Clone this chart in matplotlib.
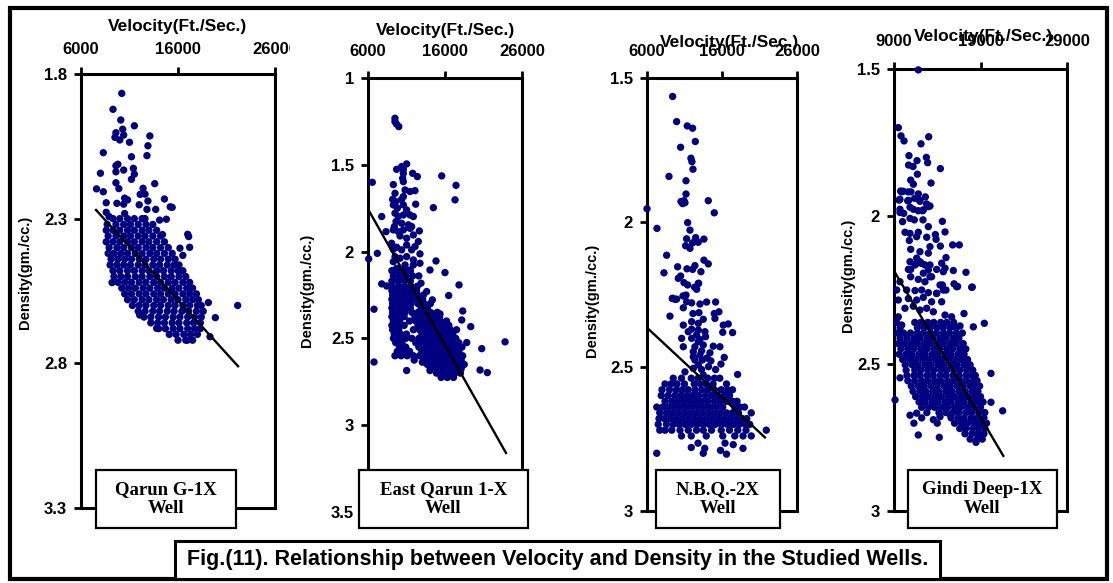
import matplotlib
matplotlib.use('Agg')
import matplotlib.pyplot as plt
import matplotlib.patches as mpatches
from matplotlib.transforms import Bbox, TransformedBbox
import numpy as np

plt.rcParams['font.family'] = ['Liberation Sans', 'DejaVu Sans']
plt.rcParams['font.weight'] = 'bold'

# ---------------------------------------------------------------
# data: (velocity ft/s, density gm/cc) read per well
# ---------------------------------------------------------------
well_names = ['Qarun G-1X\nWell', 'East Qarun 1-X\nWell', 'N.B.Q.-2X\nWell', 'Gindi Deep-1X\nWell']

vel_ticks = [[6000, 16000, 26000], [6000, 16000, 26000], [6000, 16000, 26000], [9000, 19000, 29000]]
den_ticks = [[1.8, 2.3, 2.8, 3.3], [1, 1.5, 2, 2.5, 3, 3.5], [1.5, 2, 2.5, 3], [1.5, 2, 2.5, 3]]
den_labels = [['1.8', '2.3', '2.8', '3.3'], ['1', '1.5', '2', '2.5', '3', '3.5'],
              ['1.5', '2', '2.5', '3'], ['1.5', '2', '2.5', '3']]

# regression line end points
qarun_fit = [(7550, 2.27), (22190, 2.81)]
east_fit = [(6000, 1.755), (23920, 3.16)]
nbq_fit = [(6000, 2.365), (21720, 2.745)]
gindi_fit = [(9000, 2.185), (21640, 2.813)]

qarun_pts = [
    (10200, 1.867), (9300, 1.922), (10100, 1.959), (11500, 1.979), (10300, 1.991), (9600, 2.003),
    (10400, 2.011), (9500, 2.019), (10000, 2.028), (13100, 2.014), (11000, 2.036), (12900, 2.048),
    (12800, 2.082), (8300, 2.072), (11200, 2.086), (9600, 2.117), (9800, 2.112), (11400, 2.126),
    (10400, 2.132), (8000, 2.143), (11500, 2.146), (9600, 2.138), (11200, 2.164), (9600, 2.176),
    (13600, 2.179), (7600, 2.197), (8300, 2.207), (12400, 2.195), (9900, 2.196), (12100, 2.216),
    (12600, 2.215), (10500, 2.229), (10800, 2.235), (12900, 2.239), (14600, 2.232), (8600, 2.245),
    (9700, 2.247), (12000, 2.252), (10400, 2.250), (15400, 2.261), (15200, 2.259), (13700, 2.268),
    (12800, 2.268), (10500, 2.282), (8600, 2.278), (8900, 2.293), (12600, 2.300), (14100, 2.305),
    (14800, 2.302), (17000, 2.354), (17100, 2.362), (14400, 2.355), (17200, 2.399), (16200, 2.402),
    (16500, 2.427), (9200, 2.521), (19130, 2.590), (22150, 2.600), (19850, 2.642), (12050, 2.633),
    (16960, 2.720), (13800, 2.679), (19300, 2.708),
    (9300, 2.30), (10000, 2.30), (10800, 2.30), (11500, 2.30), (12300, 2.30),
    (8700, 2.32), (9600, 2.32), (10400, 2.32), (11100, 2.32), (11900, 2.32), (12700, 2.32), (13400, 2.32),
    (8600, 2.34), (9300, 2.34), (10000, 2.34), (10800, 2.34), (11500, 2.34), (12300, 2.34), (13000, 2.34),
    (13800, 2.34),
    (8800, 2.36), (9600, 2.36), (10400, 2.36), (11100, 2.36), (11900, 2.36), (12600, 2.36), (13400, 2.36),
    (14200, 2.36),
    (8600, 2.38), (9300, 2.38), (10000, 2.38), (10800, 2.38), (11500, 2.38), (12300, 2.38), (13000, 2.38),
    (13800, 2.38), (14600, 2.38),
    (8900, 2.40), (9700, 2.40), (10400, 2.40), (11200, 2.40), (11900, 2.40), (12700, 2.40), (13400, 2.40),
    (14200, 2.40), (15000, 2.40),
    (8800, 2.42), (9400, 2.42), (10100, 2.42), (10800, 2.42), (11600, 2.42), (12300, 2.42), (13100, 2.42),
    (13800, 2.42), (14600, 2.42), (15400, 2.42),
    (9100, 2.44), (9800, 2.44), (10500, 2.44), (11200, 2.44), (12000, 2.44), (12700, 2.44), (13500, 2.44),
    (14200, 2.44), (15000, 2.44), (15700, 2.44),
    (9000, 2.46), (9700, 2.46), (10400, 2.46), (11100, 2.46), (11900, 2.46), (12600, 2.46), (13400, 2.46),
    (14100, 2.46), (14900, 2.46), (15600, 2.46), (16100, 2.46),
    (9300, 2.48), (10000, 2.48), (10800, 2.48), (11500, 2.48), (12300, 2.48), (13000, 2.48), (13800, 2.48),
    (14500, 2.48), (15300, 2.48), (16000, 2.48), (16500, 2.48),
    (9400, 2.50), (10100, 2.50), (10800, 2.50), (11600, 2.50), (12300, 2.50), (13100, 2.50), (13800, 2.50),
    (14600, 2.50), (15300, 2.50), (16100, 2.50), (16800, 2.50),
    (9800, 2.52), (10500, 2.52), (11200, 2.52), (12000, 2.52), (12700, 2.52), (13500, 2.52), (14200, 2.52),
    (15000, 2.52), (15700, 2.52), (16500, 2.52), (17200, 2.52),
    (10200, 2.54), (10900, 2.54), (11600, 2.54), (12400, 2.54), (13100, 2.54), (13900, 2.54), (14600, 2.54),
    (15400, 2.54), (16100, 2.54), (16900, 2.54), (17500, 2.54),
    (10500, 2.56), (11200, 2.56), (12000, 2.56), (12700, 2.56), (13500, 2.56), (14200, 2.56), (15000, 2.56),
    (15700, 2.56), (16500, 2.56), (17200, 2.56), (17900, 2.56),
    (10800, 2.58), (11500, 2.58), (12300, 2.58), (13000, 2.58), (13800, 2.58), (14500, 2.58), (15300, 2.58),
    (16000, 2.58), (16800, 2.58), (17500, 2.58), (18100, 2.58),
    (11300, 2.60), (12000, 2.60), (12700, 2.60), (13500, 2.60), (14200, 2.60), (15000, 2.60), (15700, 2.60),
    (16500, 2.60), (17200, 2.60), (18000, 2.60), (18400, 2.60),
    (11900, 2.62), (12600, 2.62), (13400, 2.62), (14100, 2.62), (14900, 2.62), (15600, 2.62), (16400, 2.62),
    (17100, 2.62), (17900, 2.62), (18600, 2.62),
    (12500, 2.64), (13200, 2.64), (14000, 2.64), (14700, 2.64), (15500, 2.64), (16200, 2.64), (17000, 2.64),
    (17700, 2.64), (18400, 2.64),
    (13200, 2.66), (13900, 2.66), (14600, 2.66), (15400, 2.66), (16100, 2.66), (16900, 2.66), (17600, 2.66),
    (18300, 2.66),
    (14000, 2.68), (14700, 2.68), (15500, 2.68), (16200, 2.68), (17000, 2.68), (17700, 2.68), (18300, 2.68),
    (15100, 2.70), (15800, 2.70), (16600, 2.70), (17300, 2.70), (18000, 2.70),
    (16000, 2.72), (16800, 2.72), (17500, 2.72),
]

east_pts = [
    (9500, 1.232), (9500, 1.251), (9700, 1.265), (10000, 1.280),
    (11020, 1.495), (10590, 1.526), (11800, 1.549), (12410, 1.568), (9720, 1.526), (6560, 1.601),
    (9290, 1.614), (15570, 1.564), (17430, 1.618), (17300, 1.702), (14490, 1.747), (12100, 1.649),
    (12190, 1.727), (7780, 1.798), (8340, 1.885), (7210, 2.010), (6090, 2.042), (7780, 2.186),
    (8420, 2.198), (14830, 2.054), (14050, 2.106), (16000, 2.121), (17820, 2.192), (16480, 2.253),
    (14360, 2.278), (13620, 2.230), (12880, 2.182), (6780, 2.332), (6780, 2.636), (11020, 2.685),
    (14050, 2.685), (18170, 2.394), (18300, 2.342), (19340, 2.432), (23800, 2.520), (20770, 2.559),
    (20550, 2.682), (21500, 2.697), (15350, 2.359), (14570, 2.359), (13060, 2.637), (18820, 2.524),
    (10370, 1.510), (10590, 1.549), (10500, 1.578), (10590, 1.597), (10810, 1.645), (9510, 1.664),
    (11460, 1.654), (10590, 1.683), (9200, 1.699), (9640, 1.712), (10370, 1.699), (9290, 1.731),
    (9810, 1.750), (11020, 1.760), (10590, 1.731), (11460, 1.789), (9510, 1.779), (9940, 1.798),
    (9640, 1.827), (10370, 1.837), (10590, 1.789), (11890, 1.798), (11240, 1.846), (9420, 1.856),
    (11670, 1.856), (9290, 1.875), (9940, 1.885), (10590, 1.875), (11460, 1.866), (12670, 1.881),
    (10160, 1.910), (11020, 1.923), (11890, 1.904), (12540, 1.942), (9070, 1.952), (9720, 1.975),
    (10370, 1.990), (11020, 1.962), (11670, 1.990), (9290, 1.987), (12110, 1.971), (12750, 2.013),
    (9510, 2.029), (10160, 2.038), (11020, 2.029), (11890, 2.048), (9290, 2.058), (10810, 2.077),
    (11890, 2.077), (12750, 2.067), (11460, 2.106), (9720, 2.096),
    (9100, 2.11), (9900, 2.11), (10700, 2.11), (11500, 2.11),
    (9300, 2.14), (10100, 2.14), (10900, 2.14), (11800, 2.14), (12600, 2.14),
    (9100, 2.17), (9900, 2.17), (10700, 2.17), (11500, 2.17),
    (9200, 2.20), (10000, 2.20), (10800, 2.20), (11600, 2.20), (12400, 2.20),
    (9100, 2.225), (9900, 2.225), (10700, 2.225), (11500, 2.225), (12300, 2.225),
    (9200, 2.25), (10000, 2.25), (10800, 2.25), (11600, 2.25), (12400, 2.25), (13200, 2.25),
    (9100, 2.275), (9900, 2.275), (10700, 2.275), (11500, 2.275), (12300, 2.275), (13100, 2.275),
    (9200, 2.30), (10000, 2.30), (10800, 2.30), (11600, 2.30), (12500, 2.30), (13300, 2.30), (14100, 2.30),
    (9100, 2.325), (9900, 2.325), (10700, 2.325), (11500, 2.325), (12900, 2.325), (13700, 2.325),
    (9200, 2.35), (10000, 2.35), (10800, 2.35), (11700, 2.35), (12500, 2.35), (13300, 2.35), (14100, 2.35),
    (15000, 2.35),
    (9100, 2.375), (9900, 2.375), (10700, 2.375), (12100, 2.375), (12900, 2.375), (13700, 2.375),
    (14500, 2.375), (15300, 2.375),
    (9300, 2.40), (10100, 2.40), (11400, 2.40), (12200, 2.40), (13000, 2.40), (13800, 2.40), (14600, 2.40),
    (15400, 2.40), (16200, 2.40),
    (9100, 2.425), (9900, 2.425), (10700, 2.425), (12500, 2.425), (13300, 2.425), (14100, 2.425),
    (14900, 2.425), (15700, 2.425), (16500, 2.425),
    (9200, 2.45), (10000, 2.45), (11900, 2.45), (12700, 2.45), (13500, 2.45), (14300, 2.45), (15100, 2.45),
    (15900, 2.45), (16700, 2.45), (17500, 2.45),
    (9400, 2.475), (10200, 2.475), (11000, 2.475), (13000, 2.475), (13800, 2.475), (14600, 2.475),
    (15400, 2.475), (16200, 2.475), (17000, 2.475),
    (9300, 2.50), (10100, 2.50), (10900, 2.50), (11700, 2.50), (12600, 2.50), (13400, 2.50), (14200, 2.50),
    (15000, 2.50), (15800, 2.50), (16600, 2.50), (17400, 2.50),
    (9600, 2.525), (10400, 2.525), (12200, 2.525), (13000, 2.525), (13800, 2.525), (14600, 2.525),
    (15400, 2.525), (16200, 2.525), (17000, 2.525), (17800, 2.525),
    (10100, 2.55), (10900, 2.55), (12600, 2.55), (13400, 2.55), (14200, 2.55), (15000, 2.55), (15800, 2.55),
    (16600, 2.55), (17400, 2.55), (18200, 2.55),
    (9800, 2.575), (10600, 2.575), (11400, 2.575), (13000, 2.575), (13800, 2.575), (14600, 2.575),
    (15400, 2.575), (16200, 2.575), (17000, 2.575), (17800, 2.575),
    (9500, 2.60), (10300, 2.60), (11100, 2.60), (11900, 2.60), (12700, 2.60), (13500, 2.60), (14300, 2.60),
    (15100, 2.60), (15900, 2.60), (16700, 2.60), (17500, 2.60), (18300, 2.60),
    (12000, 2.625), (13300, 2.625), (14100, 2.625), (14900, 2.625), (15700, 2.625), (16500, 2.625),
    (17300, 2.625), (18100, 2.625),
    (13700, 2.65), (14500, 2.65), (15300, 2.65), (16100, 2.65), (16900, 2.65), (17700, 2.65), (18500, 2.65),
    (14100, 2.675), (14900, 2.675), (15700, 2.675), (16500, 2.675), (17300, 2.675), (18100, 2.675),
    (14900, 2.70), (15700, 2.70), (16500, 2.70), (17300, 2.70), (18000, 2.70),
    (15500, 2.725), (16300, 2.725), (17100, 2.725),
]

nbq_pts = [
    (9420, 1.564), (9950, 1.651), (11370, 1.666), (12080, 1.674), (10480, 1.740), (12440, 1.720),
    (11860, 1.778), (11990, 1.790), (12130, 1.816), (8930, 1.841), (11200, 1.856), (11200, 1.902),
    (10530, 1.928), (10930, 1.925), (10750, 1.935), (11060, 1.932), (14170, 1.925), (14970, 1.967),
    (6000, 1.953), (7330, 2.021), (11420, 2.001), (11730, 2.027), (11280, 2.057), (12480, 2.053),
    (13590, 2.058), (12080, 2.071), (12840, 2.069), (11150, 2.081), (11730, 2.090), (8620, 2.114),
    (13590, 2.131), (14170, 2.144), (10080, 2.154), (11330, 2.161), (12080, 2.163), (12390, 2.150),
    (13190, 2.171), (8260, 2.175), (10480, 2.186), (10170, 2.194), (10930, 2.209), (11420, 2.217),
    (12880, 2.211), (12620, 2.232), (12350, 2.225), (11200, 2.252), (9420, 2.263), (9950, 2.266),
    (12840, 2.212), (9370, 2.264), (9770, 2.267), (10800, 2.255), (11280, 2.275), (11950, 2.279),
    (13060, 2.283), (13950, 2.276), (15150, 2.276), (9060, 2.325), (10840, 2.296), (12130, 2.316),
    (12930, 2.313), (14970, 2.316), (15590, 2.310), (15060, 2.333), (10840, 2.356), (11950, 2.344),
    (12840, 2.350), (13500, 2.336), (16170, 2.356), (16830, 2.352), (16100, 2.381), (17410, 2.382),
    (11500, 2.379), (12840, 2.373), (13730, 2.379), (10620, 2.402), (11950, 2.402), (13060, 2.406),
    (13810, 2.396), (10840, 2.431), (12390, 2.431), (13500, 2.425), (14840, 2.429), (15720, 2.431),
    (12170, 2.448), (13280, 2.445), (14390, 2.452), (16300, 2.468), (12390, 2.477), (13370, 2.477),
    (14520, 2.480), (15860, 2.491), (11060, 2.518), (12170, 2.506), (13280, 2.510), (15150, 2.510),
    (18080, 2.527), (11950, 2.370), (12620, 2.390), (12840, 2.413), (12170, 2.466), (13060, 2.460),
    (12840, 2.494), (13500, 2.529), (14200, 2.500), (14000, 2.470),
    (9500, 2.54), (10600, 2.54), (11900, 2.54), (12800, 2.54), (14100, 2.54), (15000, 2.54), (15700, 2.54),
    (8400, 2.56), (9200, 2.56), (10000, 2.56), (11000, 2.56), (12300, 2.56), (13100, 2.56), (13900, 2.56),
    (14800, 2.56), (16600, 2.56),
    (8000, 2.58), (9000, 2.58), (9900, 2.58), (10700, 2.58), (11500, 2.58), (12400, 2.58), (13300, 2.58),
    (14100, 2.58), (15000, 2.58), (15900, 2.58), (16700, 2.58), (17400, 2.58),
    (7900, 2.60), (8800, 2.60), (9700, 2.60), (10500, 2.60), (11300, 2.60), (12100, 2.60), (12900, 2.60),
    (13800, 2.60), (14600, 2.60), (15400, 2.60), (16300, 2.60), (17000, 2.60),
    (8400, 2.62), (9300, 2.62), (10100, 2.62), (10900, 2.62), (11700, 2.62), (12500, 2.62), (13300, 2.62),
    (14100, 2.62), (15000, 2.62), (15800, 2.62), (16600, 2.62), (17400, 2.62), (18000, 2.62),
    (7300, 2.64), (8100, 2.64), (8900, 2.64), (9700, 2.64), (10500, 2.64), (11300, 2.64), (12100, 2.64),
    (12900, 2.64), (13700, 2.64), (14500, 2.64), (15300, 2.64), (16100, 2.64), (17700, 2.64), (18400, 2.64),
    (19000, 2.64),
    (7700, 2.66), (8600, 2.66), (9400, 2.66), (10200, 2.66), (11000, 2.66), (11800, 2.66), (12600, 2.66),
    (13400, 2.66), (14200, 2.66), (15000, 2.66), (15800, 2.66), (16600, 2.66), (17400, 2.66), (18200, 2.66),
    (19900, 2.66),
    (7600, 2.68), (8300, 2.68), (9100, 2.68), (9900, 2.68), (10700, 2.68), (11500, 2.68), (12300, 2.68),
    (13100, 2.68), (13900, 2.68), (14700, 2.68), (15500, 2.68), (16300, 2.68), (17100, 2.68), (17900, 2.68),
    (18700, 2.68), (19300, 2.68),
    (7500, 2.70), (8600, 2.70), (9500, 2.70), (10300, 2.70), (11100, 2.70), (11900, 2.70), (12700, 2.70),
    (13500, 2.70), (14300, 2.70), (15100, 2.70), (15900, 2.70), (16700, 2.70), (17500, 2.70), (18300, 2.70),
    (19100, 2.70), (19700, 2.70),
    (7700, 2.72), (8400, 2.72), (9300, 2.72), (10400, 2.72), (11500, 2.72), (12600, 2.72), (13500, 2.72),
    (14600, 2.72), (15900, 2.72), (17000, 2.72), (18100, 2.72), (19200, 2.72), (21900, 2.72),
    (10600, 2.74), (11900, 2.74), (13900, 2.74), (16100, 2.74), (17700, 2.74), (18800, 2.74), (19900, 2.74),
    (12800, 2.765), (16400, 2.765), (17500, 2.77),
    (11900, 2.78), (13700, 2.783), (18800, 2.783),
    (7300, 2.80), (13500, 2.80), (15800, 2.79), (16600, 2.803),
]

gindi_pts = [
    (11810, 1.503), (9500, 1.699), (9810, 1.727), (10160, 1.744), (13010, 1.730), (12120, 1.754),
    (10730, 1.794), (12740, 1.800), (11660, 1.811), (12890, 1.818), (10690, 1.826), (11200, 1.831),
    (14360, 1.838), (11700, 1.857), (10930, 1.877), (11240, 1.891), (13280, 1.887), (9770, 1.914),
    (10080, 1.915), (10960, 1.917), (11810, 1.924), (12620, 1.934), (9690, 1.942), (10690, 1.946),
    (12770, 1.958), (13160, 1.965), (12000, 1.949), (9690, 1.976), (9690, 1.987), (10850, 1.969),
    (11240, 1.976), (11810, 1.981), (12390, 1.978), (12970, 1.967), (9990, 2.018), (10850, 2.007),
    (11350, 2.012), (12350, 2.012), (14590, 2.017), (12970, 2.035), (10270, 2.054), (10850, 2.058),
    (11810, 2.054), (11620, 2.069), (13780, 2.062), (14900, 2.053), (13860, 2.078), (12780, 2.071),
    (10770, 2.082), (10930, 2.112), (13160, 2.103), (14360, 2.101), (15780, 2.097), (16550, 2.097),
    (12000, 2.120), (12970, 2.125), (11620, 2.142), (15010, 2.140), (10850, 2.154), (11620, 2.159),
    (12000, 2.154), (12580, 2.165), (13160, 2.165), (14510, 2.159), (14900, 2.176), (15860, 2.184),
    (17320, 2.190), (10930, 2.180), (12390, 2.193), (13160, 2.205), (15940, 2.229), (16360, 2.238),
    (18050, 2.240), (14590, 2.233), (15010, 2.250), (13930, 2.261),
    (9850, 1.917), (10650, 1.917), (11390, 1.939), (10580, 1.947), (11970, 1.945), (10120, 1.990),
    (12310, 1.981), (9580, 1.945),
    (10660, 2.180), (11430, 2.165), (12200, 2.160), (12970, 2.182), (13930, 2.180), (14700, 2.188),
    (10930, 2.205), (11810, 2.214), (12580, 2.222), (13350, 2.205), (14320, 2.233), (16240, 2.239),
    (17980, 2.241), (9690, 2.222), (9310, 2.250), (10460, 2.250), (11430, 2.252), (12200, 2.250),
    (12970, 2.259), (13930, 2.262), (14700, 2.250), (9500, 2.284), (10660, 2.279), (11620, 2.284),
    (12390, 2.275), (13350, 2.290), (14510, 2.290), (10270, 2.312), (11230, 2.305), (12000, 2.318),
    (12780, 2.312), (13550, 2.324), (14900, 2.335), (15660, 2.341), (16630, 2.372), (17090, 2.330),
    (18170, 2.375), (19440, 2.363), (9500, 2.341), (9890, 2.369),
    (9300, 2.36), (11400, 2.36), (12100, 2.36), (12900, 2.36), (13600, 2.36), (14400, 2.36), (15100, 2.36),
    (15900, 2.36),
    (9700, 2.378), (11700, 2.378), (12500, 2.378), (13200, 2.378), (14000, 2.378), (14700, 2.378),
    (15500, 2.378), (16200, 2.378),
    (9400, 2.396), (10100, 2.396), (10900, 2.396), (11700, 2.396), (12400, 2.396), (13200, 2.396),
    (13900, 2.396), (14700, 2.396), (15400, 2.396), (16200, 2.396), (16900, 2.396),
    (9700, 2.414), (10500, 2.414), (11300, 2.414), (12000, 2.414), (12800, 2.414), (13500, 2.414),
    (14300, 2.414), (15000, 2.414), (15800, 2.414), (16500, 2.414),
    (9500, 2.432), (10200, 2.432), (11000, 2.432), (11700, 2.432), (12500, 2.432), (13200, 2.432),
    (14000, 2.432), (14700, 2.432), (15500, 2.432), (16200, 2.432), (17000, 2.432),
    (9800, 2.45), (10600, 2.45), (11300, 2.45), (12100, 2.45), (12800, 2.45), (13600, 2.45), (14300, 2.45),
    (15100, 2.45), (15800, 2.45), (16600, 2.45), (17300, 2.45),
    (9600, 2.468), (10400, 2.468), (11100, 2.468), (11900, 2.468), (12600, 2.468), (13400, 2.468),
    (14100, 2.468), (14900, 2.468), (15600, 2.468), (16400, 2.468), (17100, 2.468),
    (10000, 2.486), (10800, 2.486), (11500, 2.486), (12300, 2.486), (13000, 2.486), (13800, 2.486),
    (14500, 2.486), (15300, 2.486), (16000, 2.486), (16800, 2.486), (17500, 2.486),
    (10300, 2.504), (11100, 2.504), (11800, 2.504), (12600, 2.504), (13300, 2.504), (14100, 2.504),
    (14800, 2.504), (15600, 2.504), (16300, 2.504), (17100, 2.504), (17800, 2.504),
    (10400, 2.522), (11400, 2.522), (12100, 2.522), (12900, 2.522), (13600, 2.522), (14400, 2.522),
    (15100, 2.522), (15900, 2.522), (16600, 2.522), (17400, 2.522), (18100, 2.522),
    (10500, 2.54), (11300, 2.54), (12000, 2.54), (12800, 2.54), (13500, 2.54), (14300, 2.54), (15000, 2.54),
    (15800, 2.54), (16500, 2.54), (17300, 2.54), (18000, 2.54), (18400, 2.54),
    (10600, 2.558), (11400, 2.558), (12200, 2.558), (12900, 2.558), (13700, 2.558), (14400, 2.558),
    (15200, 2.558), (15900, 2.558), (16700, 2.558), (17400, 2.558), (18200, 2.558), (18600, 2.558),
    (11000, 2.576), (11800, 2.576), (12500, 2.576), (13300, 2.576), (14000, 2.576), (14800, 2.576),
    (15500, 2.576), (16300, 2.576), (17000, 2.576), (17800, 2.576), (18500, 2.576), (18900, 2.576),
    (11200, 2.594), (12000, 2.594), (12700, 2.594), (13500, 2.594), (14200, 2.594), (15000, 2.594),
    (15700, 2.594), (16500, 2.594), (17200, 2.594), (18000, 2.594), (18700, 2.594),
    (11500, 2.612), (12300, 2.612), (13000, 2.612), (13800, 2.612), (14500, 2.612), (15300, 2.612),
    (16000, 2.612), (16800, 2.612), (17500, 2.612), (18300, 2.612), (19000, 2.612),
    (11900, 2.63), (12600, 2.63), (13400, 2.63), (14100, 2.63), (14900, 2.63), (15600, 2.63), (16400, 2.63),
    (17100, 2.63), (17900, 2.63), (18600, 2.63), (19300, 2.63),
    (12200, 2.648), (13000, 2.648), (13700, 2.648), (14500, 2.648), (15200, 2.648), (16000, 2.648),
    (16700, 2.648), (17500, 2.648), (18200, 2.648), (19000, 2.648),
    (12800, 2.666), (14200, 2.666), (15000, 2.666), (15800, 2.666), (16500, 2.666), (17300, 2.666),
    (18000, 2.666), (18800, 2.666), (19500, 2.666),
    (12200, 2.684), (15600, 2.684), (16400, 2.684), (17100, 2.684), (17900, 2.684), (18600, 2.684),
    (19400, 2.684),
    (11300, 2.702), (14000, 2.702), (16000, 2.702), (16800, 2.702), (17500, 2.702), (18300, 2.702),
    (19000, 2.702), (19700, 2.702),
    (16600, 2.72), (17300, 2.72), (18100, 2.72), (18800, 2.72), (19500, 2.72),
    (17200, 2.738), (18000, 2.738), (18700, 2.738), (19400, 2.738),
    (17800, 2.756), (18600, 2.756), (19200, 2.756),
    (9690, 2.548), (9120, 2.623), (11810, 2.742), (14240, 2.750), (18480, 2.767), (20210, 2.533),
    (20210, 2.631), (21560, 2.660), (10850, 2.675), (11620, 2.668), (13550, 2.690), (14320, 2.680),
    (15470, 2.672),
]

well_points = [qarun_pts, east_pts, nbq_pts, gindi_pts]
well_fits = [qarun_fit, east_fit, nbq_fit, gindi_fit]

# ---------------------------------------------------------------
# layout (pixel boxes on a 1113 x 583 canvas)
# ---------------------------------------------------------------
W, H = 1113, 583


def fig_rect(x0, y0, x1, y1):
    return [x0 / W, 1 - y1 / H, (x1 - x0) / W, (y1 - y0) / H]


axes_px = [(81, 74, 275, 508), (368, 78, 522, 512), (647, 78, 797, 511), (894, 69, 1067, 511)]
name_box_px = [(96, 470, 236, 528), (359, 470, 528, 528), (656, 470, 780, 528), (908, 470, 1057, 528)]
vel_label_px = [(178, 27), (446, 31), (730, 42), (983, 36)]
den_label_px = [(25, 272), (307, 290), (592, 300), (848, 275)]
x_pads = [7, 8.5, 8.5, 9.5]

NAVY = '#000080'

fig = plt.figure(figsize=(W / 100, H / 100), dpi=100)

axes = []
for i in range(4):
    ax = fig.add_axes(fig_rect(*axes_px[i]))
    pts = np.array(well_points[i])
    ax.scatter(pts[:, 0], pts[:, 1], s=28, color=NAVY, edgecolors='none', zorder=3, clip_on=False)
    fit = np.array(well_fits[i])
    ax.plot(fit[:, 0], fit[:, 1], color='black', lw=1.7, zorder=4)

    ax.set_xlim(vel_ticks[i][0], vel_ticks[i][-1])
    ax.set_ylim(den_ticks[i][-1], den_ticks[i][0])
    ax.xaxis.tick_top()
    ax.set_xticks(vel_ticks[i])
    ax.set_xticklabels([str(v) for v in vel_ticks[i]])
    ax.set_yticks(den_ticks[i])
    ax.set_yticklabels(den_labels[i])
    ax.tick_params(axis='both', direction='out', length=5, width=2, labelsize=12)
    ax.tick_params(axis='x', pad=x_pads[i])
    ax.tick_params(axis='y', pad=5)
    for sp in ax.spines.values():
        sp.set_linewidth(2.2)
    axes.append(ax)

    cx, cy = vel_label_px[i]
    fig.text(cx / W, 1 - cy / H, 'Velocity(Ft./Sec.)', ha='center', va='center', fontsize=12.5)
    dx, dy = den_label_px[i]
    fig.text(dx / W, 1 - dy / H, 'Density(gm./cc.)', ha='center', va='center',
             rotation=90, fontsize=10.5)

    # well name box over the bottom of the track
    bx0, by0, bx1, by1 = name_box_px[i]
    r = fig_rect(bx0, by0, bx1, by1)
    fig.patches.append(mpatches.Rectangle((r[0], r[1]), r[2], r[3], transform=fig.transFigure,
                                          facecolor='white', edgecolor='black', lw=1.6, zorder=5))
    fig.text((bx0 + bx1) / 2 / W, 1 - (by0 + by1) / 2 / H, well_names[i], ha='center', va='center',
             family=['Liberation Serif', 'DejaVu Serif'], fontsize=13.5, linespacing=1.1, zorder=6)

# outer frame and caption box
r = fig_rect(9.5, 7.5, 1107, 579)
fig.patches.append(mpatches.Rectangle((r[0], r[1]), r[2], r[3], transform=fig.transFigure,
                                      facecolor='none', edgecolor='black', lw=3, zorder=5))
r = fig_rect(175, 541, 940, 579)
fig.patches.append(mpatches.Rectangle((r[0], r[1]), r[2], r[3], transform=fig.transFigure,
                                      facecolor='white', edgecolor='black', lw=2.2, zorder=6))
fig.text(557.5 / W, 1 - 560 / H,
         'Fig.(11). Relationship between Velocity and Density in the Studied Wells.',
         ha='center', va='center', fontsize=15.5, zorder=7)

# the last top label of the first track is cut off at the track edge
fig.canvas.draw()
lbl = axes[0].xaxis.get_major_ticks()[-1].label2
lbl.set_clip_box(TransformedBbox(Bbox.from_extents(0, 0, 290 / W, 1), fig.transFigure))
lbl.set_clip_on(True)

fig.savefig('out.png', dpi=100)
